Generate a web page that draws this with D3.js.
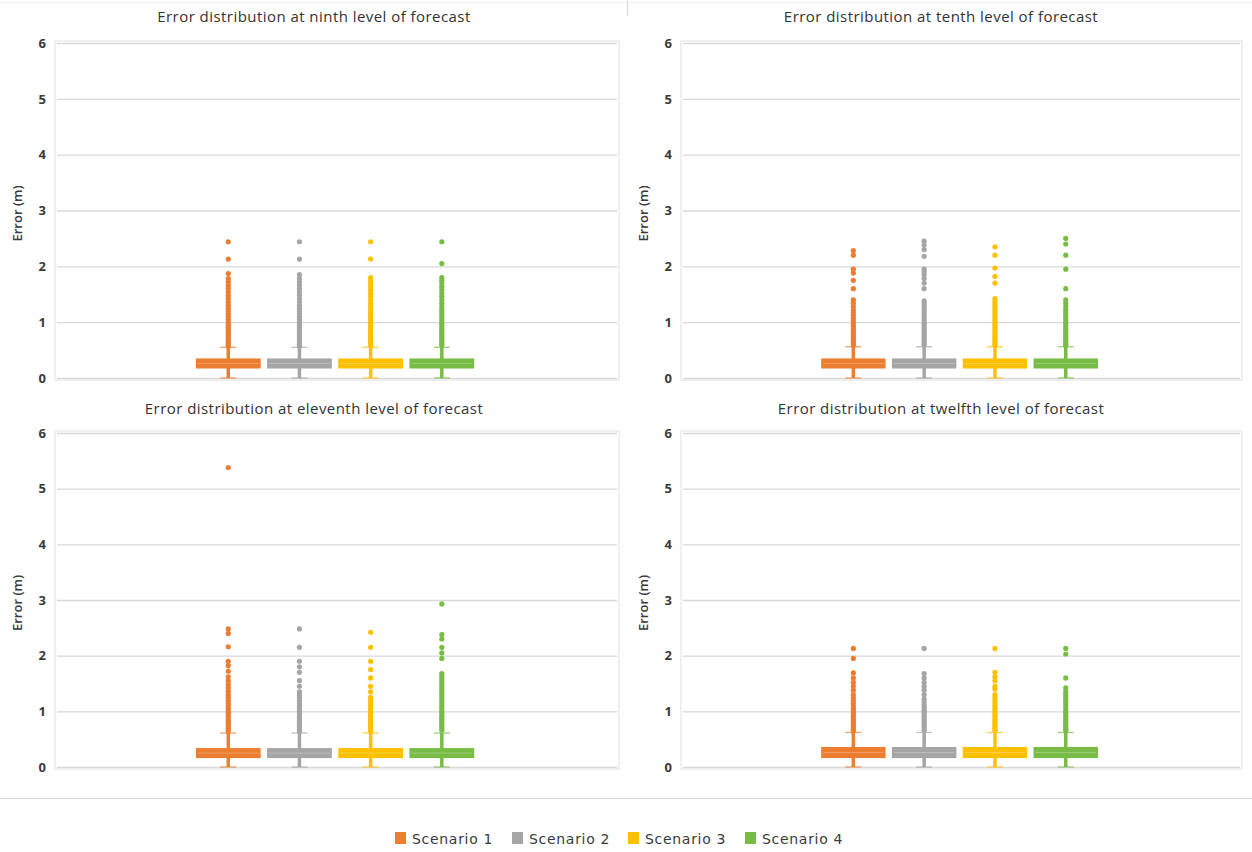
<!DOCTYPE html>
<html><head><meta charset="utf-8">
<script src="https://cdn.jsdelivr.net/npm/d3@7"></script>
<style>
html,body{margin:0;padding:0;background:#fff;}
svg{display:block;}
</style></head>
<body>
<svg id="chart" width="1252" height="852"></svg>
<script>
// ---------- DATA ----------
const scenarios = ["Scenario 1", "Scenario 2", "Scenario 3", "Scenario 4"];
const colors = ["#ED7D31", "#A5A5A5", "#FFC000", "#78BC46"];
const titles = [
  "Error distribution at ninth level of forecast",
  "Error distribution at tenth level of forecast",
  "Error distribution at eleventh level of forecast",
  "Error distribution at twelfth level of forecast"
];
const yTicks = [0, 1, 2, 3, 4, 5, 6];
const yLabel = "Error (m)";

// box statistics per panel: [min, q1, median, q3, whiskerMax]
const boxNinth    = [0, 0.17, 0.26, 0.35, 0.55];
const boxTenth    = [0, 0.17, 0.26, 0.35, 0.56];
const boxEleventh = [0, 0.16, 0.25, 0.34, 0.61];
const boxTwelfth  = [0, 0.16, 0.26, 0.36, 0.62];

// outliers (m), per panel, per scenario
const outNinth = [
  [2.44,2.13,1.87,1.78,1.72,1.66,1.6,1.54,1.48,1.42,1.36,1.3,1.25,1.2,1.15,1.1,1.05,1.0,0.96,0.92,0.88,0.84,0.8,0.76,0.72,0.68,0.64,0.6,0.57],
  [2.44,2.13,1.85,1.78,1.72,1.66,1.6,1.54,1.48,1.42,1.36,1.3,1.25,1.2,1.15,1.1,1.05,1.0,0.96,0.92,0.88,0.84,0.8,0.76,0.72,0.68,0.64,0.6,0.57],
  [2.44,2.13,1.8,1.75,1.7,1.64,1.58,1.52,1.46,1.4,1.34,1.28,1.23,1.18,1.13,1.08,1.03,0.98,0.94,0.9,0.86,0.82,0.78,0.74,0.7,0.66,0.62,0.59],
  [2.44,2.05,1.8,1.75,1.7,1.64,1.58,1.52,1.46,1.4,1.34,1.28,1.23,1.18,1.13,1.08,1.03,0.98,0.94,0.9,0.86,0.82,0.78,0.74,0.7,0.66,0.62,0.59]
];
const outTenth = [
  [2.28,2.2,1.95,1.88,1.75,1.6,1.4,1.34,1.28,1.22,1.17,1.12,1.07,1.02,0.97,0.93,0.89,0.85,0.81,0.77,0.73,0.69,0.65,0.61,0.58],
  [2.45,2.38,2.3,2.18,1.95,1.9,1.85,1.78,1.7,1.6,1.38,1.33,1.28,1.23,1.18,1.13,1.08,1.03,0.98,0.94,0.9,0.86,0.82,0.78,0.74,0.7,0.66,0.62,0.59],
  [2.35,2.2,1.97,1.82,1.7,1.42,1.37,1.32,1.27,1.22,1.17,1.12,1.07,1.02,0.97,0.93,0.89,0.85,0.81,0.77,0.73,0.69,0.65,0.61,0.58],
  [2.5,2.4,2.2,1.95,1.6,1.4,1.34,1.28,1.22,1.17,1.12,1.07,1.02,0.97,0.93,0.89,0.85,0.81,0.77,0.73,0.69,0.65,0.61,0.58]
];
const outEleventh = [
  [5.38,2.48,2.4,2.16,1.9,1.82,1.72,1.62,1.55,1.48,1.42,1.36,1.3,1.25,1.2,1.15,1.1,1.05,1.0,0.96,0.92,0.88,0.84,0.8,0.76,0.72,0.68,0.64],
  [2.48,2.15,1.9,1.8,1.7,1.55,1.45,1.35,1.29,1.24,1.19,1.14,1.09,1.04,1.0,0.96,0.92,0.88,0.84,0.8,0.76,0.72,0.68,0.64],
  [2.42,2.15,1.9,1.75,1.6,1.45,1.35,1.25,1.19,1.14,1.09,1.04,1.0,0.96,0.92,0.88,0.84,0.8,0.76,0.72,0.68,0.64],
  [2.93,2.38,2.3,2.15,2.05,1.95,1.68,1.63,1.58,1.53,1.48,1.43,1.38,1.33,1.28,1.23,1.18,1.13,1.08,1.03,0.98,0.94,0.9,0.86,0.82,0.78,0.74,0.7,0.66]
];
const outTwelfth = [
  [2.13,1.95,1.69,1.6,1.52,1.45,1.38,1.3,1.24,1.19,1.14,1.09,1.04,1.0,0.96,0.92,0.88,0.84,0.8,0.76,0.72,0.68,0.65],
  [2.13,1.68,1.6,1.52,1.45,1.38,1.3,1.22,1.17,1.12,1.07,1.02,0.98,0.94,0.9,0.86,0.82,0.78,0.74,0.7,0.66],
  [2.13,1.7,1.62,1.55,1.45,1.4,1.3,1.24,1.19,1.14,1.09,1.04,1.0,0.96,0.92,0.88,0.84,0.8,0.76,0.72,0.68,0.65],
  [2.13,2.03,1.6,1.42,1.35,1.3,1.25,1.2,1.15,1.1,1.05,1.0,0.96,0.92,0.88,0.84,0.8,0.76,0.72,0.68,0.65]
];

const boxes = [boxNinth, boxTenth, boxEleventh, boxTwelfth];
const outliers = [outNinth, outTenth, outEleventh, outTwelfth];

// ---------- LAYOUT ----------
const layout = [
  {px: 0,   py: 0,   x0: 57,  x1: 617,  yTop: 43,  yBot: 378},
  {px: 627, py: 0,   x0: 683, x1: 1240, yTop: 43,  yBot: 378},
  {px: 0,   py: 392, x0: 57,  x1: 617,  yTop: 433, yBot: 767},
  {px: 627, py: 392, x0: 683, x1: 1240, yTop: 433, yBot: 767}
];
const FONT = "'Open Sans', 'Noto Sans', sans-serif";
const svg = d3.select("#chart");

// panel separators
svg.append("line").attr("x1", 0).attr("x2", 1252).attr("y1", 798.5).attr("y2", 798.5)
  .attr("stroke", "#d9d9d9").attr("stroke-width", 1.2);
svg.append("line").attr("x1", 627.5).attr("x2", 627.5).attr("y1", 0).attr("y2", 16)
  .attr("stroke", "#dcdcdc").attr("stroke-width", 1.5);
svg.append("line").attr("x1", 0).attr("x2", 1252).attr("y1", 2.5).attr("y2", 2.5)
  .attr("stroke", "#efefef").attr("stroke-width", 1);

layout.forEach((L, i) => {
  const g = svg.append("g");
  const y = d3.scaleLinear().domain([0, 6]).range([L.yBot, L.yTop]);
  const w = L.x1 - L.x0;
  const x = d3.scaleBand().domain(scenarios)
    .range([L.x0 + w * 0.248, L.x0 + w * 0.745]).paddingInner(0.09).paddingOuter(0);

  // plot area frame
  g.append("rect").attr("x", L.x0 - 2).attr("y", L.yTop - 2).attr("width", w + 4).attr("height", L.yBot - L.yTop + 4)
    .attr("fill", "none").attr("stroke", "#f0f0f0").attr("stroke-width", 2);

  // gridlines + ticks
  const ax = g.append("g").attr("transform", `translate(${L.x0},0)`)
    .call(d3.axisLeft(y).tickValues(yTicks).tickSize(-w).tickFormat(d3.format("d")));
  ax.select(".domain").remove();
  ax.selectAll(".tick line").attr("stroke", "#d9d9d9").attr("stroke-width", 1.3);
  ax.selectAll(".tick text").attr("x", -11).attr("fill", "#3a3a3a")
    .style("font-family", FONT).style("font-size", "13px").style("font-weight", "700");

  // title
  g.append("text").attr("x", L.px + 314).attr("y", L.py + 22).attr("text-anchor", "middle")
    .attr("fill", "#333").style("font-family", FONT).style("font-size", "15px")
    .style("letter-spacing", "0.45px").text(titles[i]);

  // y label
  const ly = (L.yTop + L.yBot) / 2 + 3;
  g.append("text").attr("transform", `translate(${L.x0 - 35},${ly}) rotate(-90)`)
    .attr("text-anchor", "middle").attr("fill", "#3a3a3a")
    .style("font-family", FONT).style("font-size", "13px").style("font-weight", "600").text(yLabel);

  const b = boxes[i];
  scenarios.forEach((s, k) => {
    const cx = x(s) + x.bandwidth() / 2;
    const c = colors[k];
    const sg = g.append("g");
    // whisker
    sg.append("line").attr("x1", cx).attr("x2", cx).attr("y1", y(b[0])).attr("y2", y(b[4]))
      .attr("stroke", c).attr("stroke-width", 3.5);
    // caps
    [b[0], b[4]].forEach(v => {
      sg.append("line").attr("x1", cx - 8).attr("x2", cx + 8).attr("y1", y(v)).attr("y2", y(v))
        .attr("stroke", c).attr("stroke-width", 1.3).attr("opacity", 0.7);
    });
    // box
    sg.append("rect").attr("x", x(s)).attr("width", x.bandwidth())
      .attr("y", y(b[3])).attr("height", y(b[1]) - y(b[3])).attr("fill", c);
    sg.append("line").attr("x1", x(s) + 2).attr("x2", x(s) + x.bandwidth() - 2)
      .attr("y1", y(b[2])).attr("y2", y(b[2])).attr("stroke", "#fff").attr("stroke-opacity", 0.25);
    // outliers
    sg.selectAll("circle").data(outliers[i][k]).join("circle")
      .attr("cx", cx).attr("cy", d => y(d)).attr("r", 2.6).attr("fill", c);
  });
});

// legend
const legX = [395, 512, 628, 745];
const lg = svg.append("g");
scenarios.forEach((s, k) => {
  lg.append("rect").attr("x", legX[k]).attr("y", 832).attr("width", 11).attr("height", 12).attr("fill", colors[k]);
  lg.append("text").attr("x", legX[k] + 17).attr("y", 843.5).attr("fill", "#3a3a3a")
    .style("font-family", "'DejaVu Sans', sans-serif").style("font-size", "14px")
    .style("letter-spacing", "0.7px").text(s);
});
</script>
</body></html>
